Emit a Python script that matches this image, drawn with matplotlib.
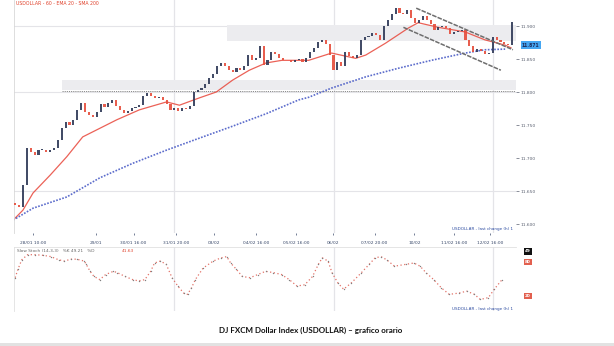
import matplotlib
matplotlib.use("Agg")
import matplotlib.pyplot as plt
from matplotlib.patches import Rectangle

# ------------------------------------------------------------
# Hourly USDOLLAR closes, one per bar
# ------------------------------------------------------------
closes = [
    11629, 11626, 11659, 11715, 11709, 11705, 11712, 11712, 11709, 11712,
    11715, 11727, 11745, 11755, 11750, 11758, 11773, 11783, 11770, 11765,
    11762, 11770, 11782, 11777, 11783, 11788, 11779, 11773, 11768, 11771,
    11776, 11777, 11780, 11794, 11798, 11794, 11791, 11792, 11788, 11782,
    11773, 11776, 11771, 11776, 11774, 11779, 11800, 11803, 11806, 11812,
    11821, 11827, 11839, 11844, 11839, 11833, 11830, 11836, 11833, 11839,
    11856, 11848, 11852, 11870, 11841, 11848, 11861, 11858, 11852, 11848,
    11848, 11845, 11848, 11850, 11845, 11852, 11861, 11867, 11876, 11879,
    11873, 11856, 11833, 11845, 11839, 11861, 11855, 11852, 11856, 11879,
    11883, 11885, 11889, 11886, 11879, 11900, 11909, 11918, 11927, 11920,
    11918, 11924, 11912, 11905, 11909, 11915, 11909, 11903, 11894, 11898,
    11900, 11897, 11888, 11891, 11892, 11894, 11879, 11870, 11861, 11865,
    11862, 11858, 11859, 11883, 11879, 11876, 11873, 11871, 11906,
]
first_open = 11632

# moving averages (bar index, price)
ema_x = [-0.5, 2, 4.6, 9, 13.3, 17.4, 21.8, 26.2, 32, 39, 42.3, 47.4, 51.8,
         56, 60.3, 64.6, 68.7, 75.6, 81.5, 87.7, 90.3, 95.4, 101.3, 103.8,
         109, 115.9, 121, 126.2, 127.7]
ema_y = [11606, 11621, 11647, 11674, 11702, 11732, 11745, 11758, 11773,
         11785, 11780, 11791, 11800, 11818, 11833, 11844, 11848, 11848,
         11859, 11851, 11856, 11874, 11897, 11905, 11898, 11891, 11879,
         11871, 11867]
sma_x = [-0.5, 4.6, 13.3, 21.8, 30.3, 39, 47.4, 55.9, 64.6, 73, 75.6, 81.5,
         90.3, 98.7, 107.2, 115.9, 121, 126.2]
sma_y = [11606, 11624, 11641, 11670, 11692, 11712, 11730, 11748, 11767,
         11788, 11792, 11806, 11823, 11836, 11848, 11859, 11864, 11865]

# descending channel
chan_up_x = [103.3, 128.2]
chan_up_y = [11927, 11864]
chan_lo_x = [100, 125.1]
chan_lo_y = [11898, 11833]

# resistance / support zones
zone_lo = (12, 11803, 11818)
zone_hi = (54.5, 11877, 11901)
support_level = 11801

grid_levels = [11900, 11800, 11650]
session_bars = [41, 82, 123]
price_ticks = [11600, 11650, 11700, 11750, 11800, 11850, 11900]
price_labels = ["11.600", "11.650", "11.700", "11.750", "11.800", "11.850", "11.900"]
last_price = 11871

date_bars = [4.6, 20.8, 30.5, 41.5, 51.3, 62.1, 72.3, 81.8, 92.6, 102.8, 113.1, 122.3]
date_labels = ["28/01 10:00", "29/01", "30/01 16:00", "31/01 20:00", "03/02",
               "04/02 16:00", "05/02 16:00", "06/02", "07/02 20:00", "10/02",
               "11/02 16:00", "12/02 16:00"]

# stochastic oscillator (bar index, value)
osc_x = [0, 0.7, 1.7, 3.2, 5.2, 7.2, 9.2, 11.2, 12.7, 14.3, 15.8, 17.8, 18.3,
         19.3, 20.3, 21.8, 23.3, 25.3, 26.3, 28.3, 30.3, 31.8, 33.4, 34.9,
         35.9, 37.4, 38.9, 40.4, 41.9, 43.4, 44.4, 45.4, 46.4, 48.4, 51, 53,
         54.5, 55.5, 57, 58.5, 60.5, 62.5, 64.5, 66.5, 68.6, 70.6, 72.6, 74.6,
         76.6, 78.1, 79.1, 80.6, 81.6, 83.1, 84.6, 86.6, 89.2, 91.2, 92.7,
         94.2, 95.7, 97.7, 100.7, 102.7, 104.3, 105.8, 107.8, 109.8, 111.8,
         114.3, 116.3, 118.3, 119.8, 121.9, 123.4, 125.4]
osc_v = [52, 65, 80, 88, 88, 87, 85, 80, 78, 81, 81, 78, 73, 62, 54, 49, 57,
         62, 60, 54, 49, 47, 49, 62, 75, 78, 73, 52, 39, 28, 26, 36, 49, 67,
         78, 83, 85, 75, 65, 54, 52, 57, 62, 60, 57, 49, 39, 41, 54, 73, 83,
         78, 60, 44, 34, 44, 60, 73, 83, 85, 80, 70, 73, 75, 70, 60, 49, 36,
         26, 28, 31, 26, 18, 21, 34, 49]

UP = "#333d5a"
DOWN = "#e6503f"
GRID = "#e4e4e8"

fig = plt.figure(figsize=(6.14, 3.46), dpi=100)
W, H = 614.0, 346.0

# ---------------- main price panel ----------------
ax = fig.add_axes([14 / W, 1 - 233 / H, 502 / W, 233 / H])
ax.set_xlim(-0.3, 129)
ax.set_ylim(11586.4, 11939.4)

for lvl in grid_levels:
    ax.axhline(lvl, color=GRID, lw=0.8, zorder=0)
for b in session_bars:
    ax.axvline(b, color=GRID, lw=0.9, zorder=0)

ax.fill_between([zone_lo[0], 129], zone_lo[1], zone_lo[2], color="#ececef", zorder=0.5, lw=0)
ax.fill_between([zone_hi[0], 129], zone_hi[1], zone_hi[2], color="#ececef", zorder=0.5, lw=0)
ax.hlines(support_level, zone_lo[0], 129, colors="#8a8a8a", lw=0.7,
          linestyles=(0, (1.2, 1.0)), zorder=1)

opens = [first_open] + closes[:-1]
idx = list(range(len(closes)))
bottoms = [min(o, c) for o, c in zip(opens, closes)]
heights = [max(abs(c - o), 1.2) for o, c in zip(opens, closes)]
colors = [UP if c >= o else DOWN for o, c in zip(opens, closes)]
ax.bar(idx, heights, bottom=bottoms, width=0.55, color=colors, lw=0, zorder=3, alpha=0.92)

ax.plot(ema_x, ema_y, color="#e8463a", lw=0.9, zorder=2, alpha=0.85)
ax.plot(sma_x, sma_y, color="#4a5cc6", lw=1.2, ls=(0, (1, 0.9)), zorder=2, alpha=0.9)

ax.plot(chan_up_x, chan_up_y, color="#6e6e6e", lw=1.1, ls=(0, (3, 0.8)), zorder=4)
ax.plot(chan_lo_x, chan_lo_y, color="#6e6e6e", lw=1.1, ls=(0, (3, 0.8)), zorder=4)

for s in ["top", "right", "bottom"]:
    ax.spines[s].set_visible(False)
ax.spines["left"].set_color("#d8d8d8")
ax.spines["left"].set_linewidth(0.6)

ax.yaxis.tick_right()
ax.set_yticks(price_ticks)
ax.set_yticklabels(price_labels)
ax.tick_params(axis="y", labelsize=3.2, colors="#5a6070", length=2, width=0.5, pad=1.5)
ax.set_xticks(date_bars)
ax.set_xticklabels(date_labels)
ax.tick_params(axis="x", labelsize=3.2, colors="#3a4a6b", length=1.5, width=0.5, pad=4)

ax.text(1.012, (last_price - 11586.4) / (11939.4 - 11586.4), "11.871",
        transform=ax.transAxes, fontsize=3.3, color="#1b2a5a", va="center",
        ha="left", fontweight="bold",
        bbox=dict(boxstyle="square,pad=0.3", facecolor="#45a6f2", edgecolor="none"))

ax.text(0.004, 0.997, "USDOLLAR - 60 - EMA 20 - SMA 200", transform=ax.transAxes,
        fontsize=3.3, color="#e0402a", va="top", ha="left")
ax.text(0.995, 0.008, "USDOLLAR - last change (h) 1", transform=ax.transAxes,
        fontsize=3.0, color="#2b4aa0", va="bottom", ha="right")

# ---------------- oscillator panel ----------------
ax2 = fig.add_axes([14 / W, 1 - 311 / H, 502 / W, 64 / H])
ax2.set_xlim(-0.3, 129)
ax2.set_ylim(0, 100)
for b in session_bars:
    ax2.axvline(b, color=GRID, lw=0.9, zorder=0)
ax2.plot(osc_x, osc_v, color="#de5a4e", lw=0.9, ls=(0, (1, 2.0)), zorder=2, alpha=0.85)
ax2.scatter(osc_x, osc_v, s=1.0, color="#808080", lw=0, zorder=3)
ax2.set_xticks([])
ax2.set_yticks([])
for s in ["right", "bottom"]:
    ax2.spines[s].set_visible(False)
for s in ["left", "top"]:
    ax2.spines[s].set_color("#e0e0e0")
    ax2.spines[s].set_linewidth(0.6)

ax2.text(0.006, 0.97, "Slow Stoch (14,3,3)   %K 49.21   %D", transform=ax2.transAxes,
         fontsize=3.1, color="#666666", va="top", ha="left")
ax2.text(0.215, 0.97, "41.63", transform=ax2.transAxes,
         fontsize=3.1, color="#e0402a", va="top", ha="left")
ax2.text(0.995, 0.0, "USDOLLAR - last change (h) 1", transform=ax2.transAxes,
         fontsize=3.0, color="#2b4aa0", va="bottom", ha="right")

osc_marks = [(93, "49", "#111111"), (76, "80", "#e2604f"), (23, "20", "#e2604f")]
for val, txt, col in osc_marks:
    ax2.text(1.018, val / 100, txt, transform=ax2.transAxes, fontsize=3.0,
             color="white", ha="left", va="center", fontweight="bold",
             bbox=dict(boxstyle="square,pad=0.25", facecolor=col, edgecolor="none"))

# ---------------- caption ----------------
fig.text(311 / W, 1 - 330 / H, "DJ FXCM Dollar Index (USDOLLAR) \u2013 grafico orario",
         ha="center", va="center", fontsize=5.75, fontweight="bold",
         family=["Lato", "DejaVu Sans"], color="#111111")
fig.patches.append(Rectangle((0, 0), 1, 3.5 / H, transform=fig.transFigure,
                             facecolor="#e2e2e2", edgecolor="none"))

fig.savefig("out.png", dpi=100)
